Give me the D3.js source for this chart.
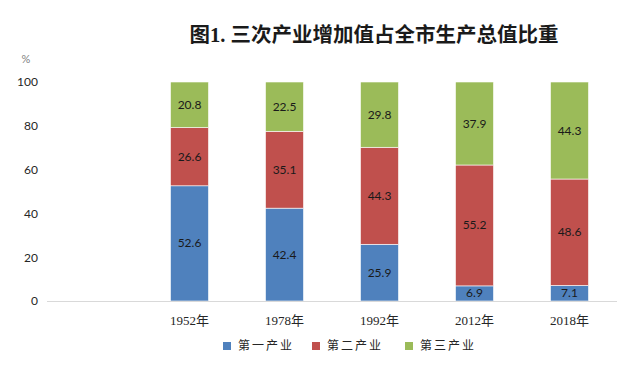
<!DOCTYPE html>
<meta charset="utf-8">
<style>
    body { margin: 0; background: #fff; }
    svg { display: block; }
</style>
<script src="https://d3js.org/d3.v7.min.js"></script>
<div id="chart"></div>
<script>
    // categories (first slot is left empty in the original chart)
    var years = ["", "1952年", "1978年", "1992年", "2012年", "2018年"];
    var primary   = [null, 52.6, 42.4, 25.9, 6.9, 7.1];
    var secondary = [null, 26.6, 35.1, 44.3, 55.2, 48.6];
    var tertiary  = [null, 20.8, 22.5, 29.8, 37.9, 44.3];
    var seriesNames = ["第一产业", "第二产业", "第三产业"];
    var colors = ["#4F81BD", "#C0504D", "#9BBB59"];
    var yTicks = [0, 20, 40, 60, 80, 100];

    var W = 636, H = 374;
    var svg = d3.select("#chart").append("svg")
        .attr("width", W)
        .attr("height", H);

    // title
    svg.append("text")
        .attr("x", 374)
        .attr("y", 42)
        .attr("text-anchor", "middle")
        .style("font-family", "'Liberation Serif', 'Noto Sans CJK SC', serif")
        .style("font-weight", "bold")
        .style("font-size", "20.5px")
        .style("fill", "#1a1a1a")
        .text("图1. 三次产业增加值占全市生产总值比重");

    var x = d3.scaleBand()
        .domain(years)
        .range([47, 617])
        .paddingInner(0.6)
        .paddingOuter(0.3);

    var y = d3.scaleLinear()
        .domain([0, 100])
        .range([301, 82]);

    // y axis labels
    var yAxis = svg.append("g")
        .attr("transform", "translate(38,0)")
        .call(d3.axisLeft(y).tickValues(yTicks).tickSize(0).tickPadding(0));
    yAxis.select(".domain").remove();
    yAxis.selectAll("text")
        .style("font-family", "Lato, 'Liberation Sans', sans-serif")
        .style("font-size", "12px")
        .style("fill", "#262626");

    svg.append("text")
        .attr("x", 26)
        .attr("y", 63)
        .attr("text-anchor", "middle")
        .style("font-family", "Lato, 'Liberation Sans', sans-serif")
        .style("font-size", "11px")
        .style("fill", "#7f7f7f")
        .text("%");

    // stack the data
    var rows = years.map(function (c, i) {
        return {cat: c, s0: primary[i], s1: secondary[i], s2: tertiary[i]};
    }).filter(function (d) { return d.s0 !== null; });

    var stack = d3.stack().keys(["s0", "s1", "s2"])(rows);

    var layers = svg.selectAll("g.layer")
        .data(stack)
        .enter().append("g")
        .attr("class", "layer")
        .style("fill", function (d, i) { return colors[i]; });

    layers.selectAll("rect")
        .data(function (d) { return d; })
        .enter().append("rect")
        .attr("x", function (d) { return x(d.data.cat); })
        .attr("width", x.bandwidth())
        .attr("y", function (d) { return y(d[1]); })
        .attr("height", function (d) { return y(d[0]) - y(d[1]); })
        .style("stroke", "#ffffff")
        .style("stroke-width", 0.6);

    // value labels
    layers.selectAll("text")
        .data(function (d) { return d; })
        .enter().append("text")
        .attr("x", function (d) { return x(d.data.cat) + x.bandwidth() / 2; })
        .attr("y", function (d) { return (y(d[0]) + y(d[1])) / 2 + 4; })
        .attr("text-anchor", "middle")
        .style("font-family", "Lato, 'Liberation Sans', sans-serif")
        .style("font-size", "12px")
        .style("fill", "#1a1a1a")
        .text(function (d) { return (d[1] - d[0]).toFixed(1); });

    // baseline
    svg.append("line")
        .attr("x1", 47).attr("x2", 617)
        .attr("y1", y(0) + 0.5).attr("y2", y(0) + 0.5)
        .style("stroke", "#d9d9d9")
        .style("stroke-width", 1);

    // category labels
    svg.selectAll("text.cat")
        .data(years.filter(function (d) { return d !== ""; }))
        .enter().append("text")
        .attr("class", "cat")
        .attr("x", function (d) { return x(d) + x.bandwidth() / 2; })
        .attr("y", 325)
        .attr("text-anchor", "middle")
        .style("font-family", "'Liberation Serif', 'Noto Sans CJK SC', serif")
        .style("font-size", "13px")
        .style("fill", "#262626")
        .text(function (d) { return d; });

    // legend
    var legendX = [223, 312, 405];
    var legend = svg.selectAll("g.legend")
        .data(seriesNames)
        .enter().append("g")
        .attr("class", "legend")
        .attr("transform", function (d, i) { return "translate(" + legendX[i] + ",342)"; });

    legend.append("rect")
        .attr("width", 8)
        .attr("height", 8)
        .style("fill", function (d, i) { return colors[i]; });

    legend.append("text")
        .attr("x", 15)
        .attr("y", 8)
        .style("font-family", "'Noto Sans CJK SC', sans-serif")
        .style("font-size", "12px")
        .style("letter-spacing", "2px")
        .style("fill", "#262626")
        .text(function (d) { return d; });
</script>
